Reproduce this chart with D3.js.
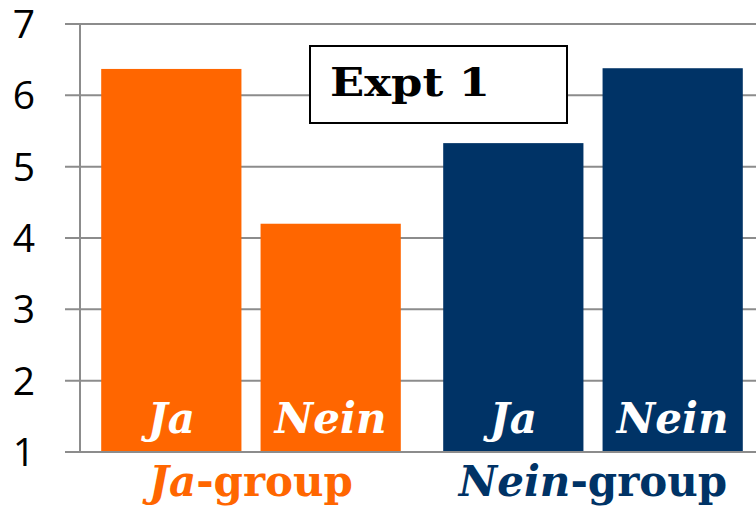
<!DOCTYPE html>
<html>
<head>
<meta charset="utf-8">
<script src="https://cdn.jsdelivr.net/npm/d3@7"></script>
<style>
  html, body { margin: 0; padding: 0; background: #fff; }
  svg { display: block; }
</style>
</head>
<body>
<div id="chart"></div>
<script>
// data
const groups = ["Ja-group", "Nein-group"];
const conditions = ["Ja", "Nein"];
const jaGroupValues = [6.37, 4.2];
const neinGroupValues = [5.33, 6.38];
const yTicks = [1, 2, 3, 4, 5, 6, 7];
const chartTitle = "Expt 1";

const groupColors = { "Ja-group": "#FF6600", "Nein-group": "#003366" };

const data = [];
groups.forEach((g, i) => {
  const vals = i === 0 ? jaGroupValues : neinGroupValues;
  conditions.forEach((c, j) => data.push({ group: g, cond: c, value: vals[j] }));
});

const W = 756, H = 506;
const margin = { top: 24, right: -8, bottom: 54, left: 80 };

const svg = d3.select("#chart").append("svg")
  .attr("width", W).attr("height", H);

const x0 = d3.scaleBand()
  .domain(groups)
  .range([margin.left, W - margin.right])
  .paddingInner(0.124)
  .paddingOuter(0.062);

const x1 = d3.scaleBand()
  .domain(conditions)
  .range([0, x0.bandwidth()])
  .paddingInner(0.12)
  .paddingOuter(0);

const y = d3.scaleLinear()
  .domain([1, 7])
  .range([H - margin.bottom, margin.top]);

// gridlines
svg.append("g")
  .selectAll("line")
  .data(yTicks)
  .enter()
  .append("line")
  .attr("x1", margin.left - 15)
  .attr("x2", W)
  .attr("y1", (d) => y(d))
  .attr("y2", (d) => y(d))
  .attr("stroke", "#8c8c8c")
  .attr("stroke-width", 2);

// y axis line
svg.append("line")
  .attr("x1", margin.left).attr("x2", margin.left)
  .attr("y1", y(7)).attr("y2", y(1))
  .attr("stroke", "#8c8c8c")
  .attr("stroke-width", 2);

// y labels
svg.append("g")
  .selectAll("text")
  .data(yTicks)
  .enter()
  .append("text")
  .attr("x", 35)
  .attr("y", (d) => y(d))
  .attr("dy", "0.36em")
  .attr("text-anchor", "end")
  .style("font-family", "'Open Sans', 'Noto Sans', sans-serif")
  .style("font-size", "39px")
  .attr("fill", "#000")
  .text((d) => d);

// bars
svg.append("g")
  .selectAll("rect")
  .data(data)
  .enter()
  .append("rect")
  .attr("x", (d) => x0(d.group) + x1(d.cond))
  .attr("width", x1.bandwidth())
  .attr("y", (d) => y(d.value))
  .attr("height", (d) => y(1) - y(d.value))
  .attr("fill", (d) => groupColors[d.group]);

// redraw baseline on top of bars
svg.append("line")
  .attr("x1", margin.left - 15).attr("x2", W)
  .attr("y1", y(1)).attr("y2", y(1))
  .attr("stroke", "#8c8c8c")
  .attr("stroke-width", 2);

// labels inside bars
svg.append("g")
  .selectAll("text")
  .data(data)
  .enter()
  .append("text")
  .attr("x", (d) => x0(d.group) + x1(d.cond) + x1.bandwidth() / 2)
  .attr("y", y(1) - 19)
  .attr("text-anchor", "middle")
  .style("font-family", "'DejaVu Serif', serif")
  .style("font-weight", "bold")
  .style("font-style", "italic")
  .style("font-size", "42px")
  .attr("fill", "#fff")
  .text((d) => d.cond);

// group labels
groups.forEach((g) => {
  const t = svg.append("text")
    .attr("x", x0(g) + x0.bandwidth() / 2)
    .attr("y", H - 10)
    .attr("text-anchor", "middle")
    .style("font-family", "'DejaVu Serif', serif")
    .style("font-weight", "bold")
    .style("font-size", "42px")
    .attr("fill", groupColors[g]);
  const parts = g.split("-");
  t.append("tspan").style("font-style", "italic").text(parts[0]);
  t.append("tspan").text("-" + parts[1]);
});

// title box
const box = svg.append("g");
box.append("rect")
  .attr("x", 310).attr("y", 46)
  .attr("width", 257).attr("height", 77)
  .attr("fill", "#fff")
  .attr("stroke", "#000")
  .attr("stroke-width", 2);
box.append("text")
  .attr("x", 330)
  .attr("y", 96)
  .attr("textLength", 160)
  .attr("lengthAdjust", "spacingAndGlyphs")
  .style("font-family", "'DejaVu Serif', serif")
  .style("font-weight", "bold")
  .style("font-size", "39px")
  .attr("fill", "#000")
  .text(chartTitle);
</script>
</body>
</html>
